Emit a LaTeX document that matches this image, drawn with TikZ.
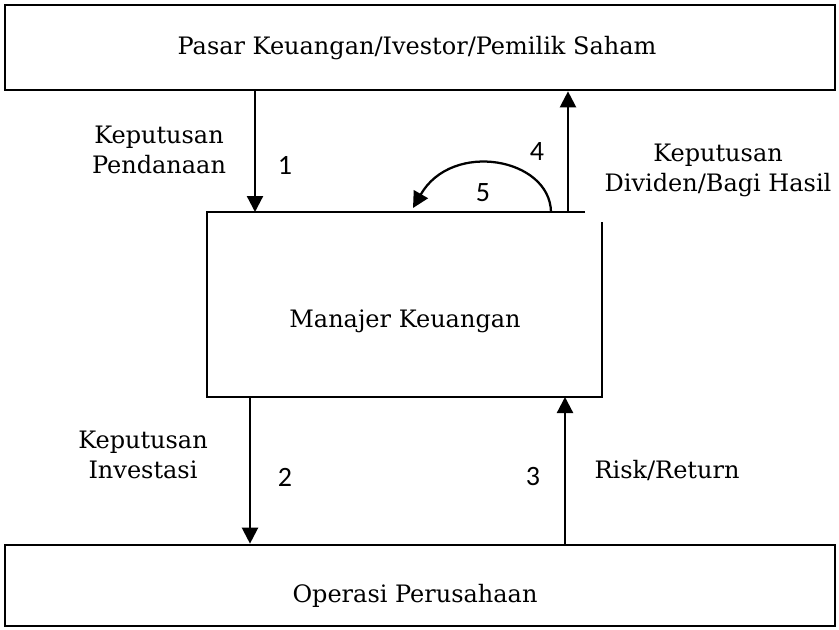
\documentclass[tikz,border=0pt]{standalone}
\usepackage{fontspec}
\setmainfont{DejaVu Serif}
\newfontfamily\numfont{Carlito}
\usetikzlibrary{arrows.meta}

\tikzset{
  boxline/.style={draw=black, line width=2pt},
  flow/.style={draw=black, line width=1.7pt, -{Triangle[length=12pt,width=12pt]}},
  lbl/.style={font=\fontsize{18pt}{22.5pt}\selectfont, align=center, inner sep=0pt},
  num/.style={font=\numfont\fontsize{21pt}{24pt}\selectfont, inner sep=0pt}
}

\begin{document}
\begin{tikzpicture}[x=0.75pt, y=-0.75pt]
  \useasboundingbox (0,0) rectangle (839,629);

  % outer boxes
  \node[boxline, minimum width=622.5pt, minimum height=63.75pt, inner sep=0pt] (market) at (420,47.5) {};
  \node[lbl] (marketText) at (417,48) {Pasar Keuangan/Ivestor/Pemilik Saham};

  \node[boxline, minimum width=622.5pt, minimum height=60.75pt, inner sep=0pt] (ops) at (420,585.5) {};
  \node[lbl] (opsText) at (415,596) {Operasi Perusahaan};

  % financial manager box, open at its top-right corner
  \coordinate (mTL) at (207,212);
  \coordinate (mTR) at (585,212);
  \coordinate (mBL) at (207,397);
  \coordinate (mBR) at (602,397);
  \coordinate (mRT) at (602,222);
  \draw[line width=2pt] (mTR) -- (mTL) -- (mBL) -- (mBR) -- (mRT);
  \node[lbl] (manager) at (405,321) {Manajer Keuangan};

  % columns of the flows
  \coordinate (c1) at (255,0);
  \coordinate (c4) at (568,0);
  \coordinate (c2) at (250,0);
  \coordinate (c3) at (565,0);

  % 1: funding, 4: dividends
  \draw[flow] (market.south -| c1) -- (mTL -| c1);
  \draw[flow] (mTL -| c4) -- (market.south -| c4);
  % 2: investment, 3: risk/return
  \draw[flow] (mBL -| c2) -- (ops.north -| c2);
  \draw[flow] (ops.north -| c3) -- (mBL -| c3);

  % 5: retained earnings loop
  \coordinate (loopStart) at (551,212);
  \coordinate (loopEnd) at (413,208);
  \draw[flow] (loopStart) .. controls (550,158) and (452,140) .. (loopEnd);

  % labels
  \node[lbl] (lFund) at (159,150) {Keputusan\\Pendanaan};
  \node[lbl] (lDiv) at (718,170) {Keputusan\\Dividen/Bagi Hasil};
  \node[lbl] (lInv) at (143,455) {Keputusan\\Investasi};
  \node[lbl] (lRisk) at (667,470) {Risk/Return};

  \node[num] (n1) at (285,165) {1};
  \node[num] (n4) at (537,152) {4};
  \node[num] (n5) at (483,193) {5};
  \node[num] (n2) at (285,477) {2};
  \node[num] (n3) at (533,477) {3};
\end{tikzpicture}
\end{document}
